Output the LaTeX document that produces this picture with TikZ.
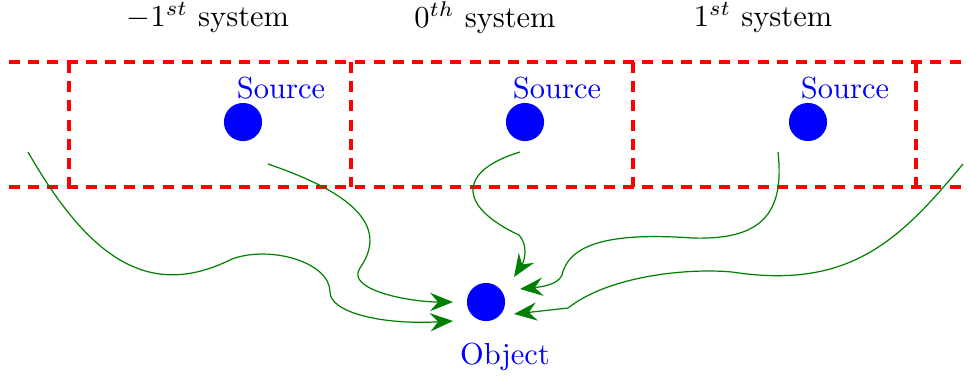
\documentclass[tikz,border=0pt]{standalone}
\usepackage{xcolor}
\usepackage{tikz}
\usetikzlibrary{arrows.meta,positioning}

\begin{document}
\begin{tikzpicture}[x=0.01153cm, y=-0.01153cm,
  cell/.style={red, line width=1pt, dash pattern=on 3.6pt off 2.7pt},
  dot/.style={circle, fill=blue, inner sep=0pt, minimum size=4.4mm},
  srclabel/.style={text=blue, inner sep=1pt},
  title/.style={inner sep=1pt},
  ray/.style={green!50!black, -{Stealth[length=7.5pt, width=6pt, inset=2.6pt]}},
]
\useasboundingbox (0,0) rectangle (969,383);

% System cells
\draw[cell] (9,62) -- (965,62);
\draw[cell] (9,187) -- (965,187);
\foreach \x in {69,351,633,916}
  \draw[cell] (\x,62) -- (\x,187);

% Titles
\node[title] (tm) at (208,18) {$-1^{st}$ system};
\node[title] (t0) at (485,18) {$0^{th}$ system};
\node[title] (t1) at (763,18) {$1^{st}$ system};

% Sources
\node[dot] (s1) at (243,122) {};
\node[dot] (s2) at (525,122) {};
\node[dot] (s3) at (808,122) {};
\node[srclabel] (l1) at ([shift={(38,-34)}]s1) {Source};
\node[srclabel] (l2) at ([shift={(32,-34)}]s2) {Source};
\node[srclabel] (l3) at ([shift={(37,-34)}]s3) {Source};

% Object
\node[dot] (obj) at (486,302) {};
\node[srclabel] (lo) at ([shift={(19,55)}]obj) {Object};

% Start and end points of the rays
\coordinate (a0) at (28,152);
\coordinate (b0) at ([shift={(25,42)}]s1);
\coordinate (c0) at ([shift={(-5,30)}]s2);
\coordinate (d0) at ([shift={(-30,30)}]s3);
\coordinate (e0) at (963,164);
\coordinate (ea) at ([shift={(-33,19)}]obj);
\coordinate (eb) at ([shift={(-33,0)}]obj);
\coordinate (ec) at ([shift={(28,-25)}]obj);
\coordinate (ed) at ([shift={(34,-13)}]obj);
\coordinate (ee) at ([shift={(28,12)}]obj);

% Rays
\draw[ray] (a0) .. controls (90,260) and (150,300) .. (232,259)
  .. controls (270,245) and (330,262) .. (330,292)
  .. controls (330,312) and (380,325) .. (ea);
\draw[ray] (b0) .. controls (350,192) and (390,225) .. (360,268)
  .. controls (345,290) and (410,302) .. (eb);
\draw[ray] (c0) .. controls (460,170) and (455,205) .. (519,235)
  .. controls (528,245) and (525,260) .. (ec);
\draw[ray] (d0) .. controls (785,215) and (760,240) .. (693,238)
  .. controls (620,233) and (570,240) .. (562,275)
  .. controls (558,285) and (540,287) .. (ed);
\draw[ray] (e0) .. controls (900,240) and (850,290) .. (732,272)
  .. controls (690,268) and (610,275) .. (568,308) -- (ee);
\end{tikzpicture}
\end{document}
